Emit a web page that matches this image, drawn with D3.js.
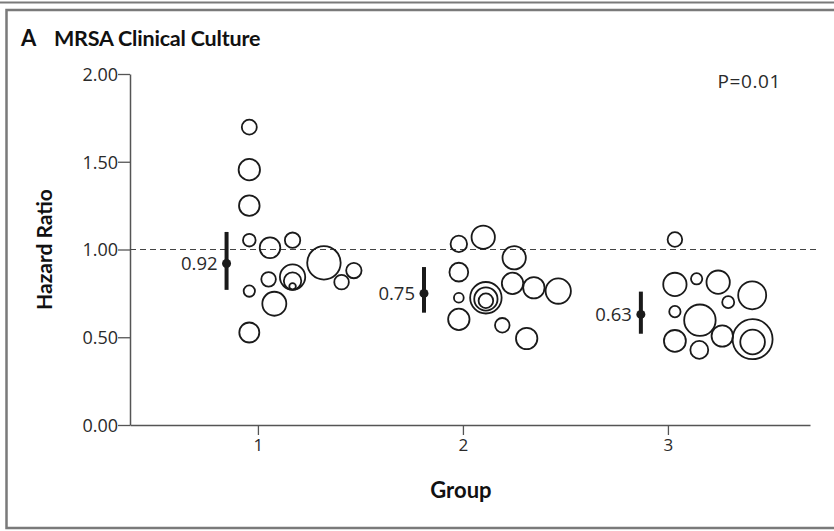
<!DOCTYPE html>
<html>
<head>
<meta charset="utf-8">
<script src="https://cdn.jsdelivr.net/npm/d3@7/dist/d3.min.js"></script>
<style>
  html, body { margin: 0; padding: 0; background: #fff; }
  svg { display: block; }
</style>
</head>
<body>
<script>
// ---- data ----
const groups = [1, 2, 3];
const yTicks = [0, 0.5, 1.0, 1.5, 2.0];
const pooledHR = [0.92, 0.75, 0.63];
const pooledLow = [0.77, 0.64, 0.52];
const pooledHigh = [1.10, 0.90, 0.76];
const pooledX = [0.847, 1.810, 2.868];
// individual studies (x position in group units, hazard ratio, weight)
const studyX = [
  0.958, 0.958, 0.958, 0.958, 1.059, 1.169, 1.322, 1.468, 1.408, 1.052, 1.169, 1.169, 1.169, 0.958, 1.080, 0.958,
  1.980, 2.099, 2.250, 1.980, 1.980, 2.112, 2.112, 2.112, 2.242, 2.346, 2.465, 1.980, 2.192, 2.311,
  3.034, 3.034, 3.140, 3.245, 3.411, 3.294, 3.034, 3.156, 3.034, 3.153, 3.265, 3.413, 3.413
];
const studyHR = [
  1.697, 1.455, 1.250, 1.053, 1.010, 1.053, 0.924, 0.880, 0.814, 0.830, 0.843, 0.820, 0.790, 0.763, 0.691, 0.527,
  1.032, 1.070, 0.953, 0.871, 0.725, 0.725, 0.718, 0.708, 0.807, 0.782, 0.763, 0.602, 0.568, 0.493,
  1.057, 0.801, 0.833, 0.814, 0.739, 0.700, 0.646, 0.597, 0.479, 0.428, 0.507, 0.489, 0.473
];
const studyWeight = [
  14, 28.6, 26.5, 10, 26.5, 14.8, 70, 14.8, 13.3, 13.3, 40, 19, 2.7, 8, 36, 25,
  17, 34, 34, 22, 6, 62, 34, 13.3, 28.6, 28.6, 40, 28.6, 13.3, 28.6,
  13.3, 34, 8, 34, 49, 9, 8, 62, 30, 20, 28.6, 100, 38
];
const pText = "P=0.01";

// ---- layout ----
const W = 834, H = 531;
const svg = d3.select("body").append("svg").attr("width", W).attr("height", H);

const x = d3.scaleLinear().domain([0.376, 3.693]).range([130, 810]);
const y = d3.scaleLinear().domain([0, 2]).range([425, 74]);
const r = d3.scaleSqrt().domain([0, 100]).range([0, 20]);

const textCol = "#2a2a2a";
const numFont = "'Open Sans', sans-serif";
const boldFont = "Lato, 'Open Sans', sans-serif";

// frame
svg.append("line").attr("x1", 0).attr("x2", W).attr("y1", 2.5).attr("y2", 2.5)
  .attr("stroke", "#7a7a7a").attr("stroke-width", 2);
svg.append("path").attr("d", `M${W + 5},10 H6.5 V528 H${W + 5}`)
  .attr("fill", "none").attr("stroke", "#7a7a7a").attr("stroke-width", 2.5);

// title
svg.append("text").attr("x", 21).attr("y", 46).text("A")
  .attr("font-family", boldFont).attr("font-weight", 700).attr("font-size", 22).attr("fill", "#111");
svg.append("text").attr("x", 54).attr("y", 46).text("MRSA Clinical Culture")
  .attr("font-family", boldFont).attr("font-weight", 700).attr("font-size", 21.5).attr("fill", "#111")
  .attr("letter-spacing", -0.2);

// y axis
const yAxis = svg.append("g").attr("transform", `translate(${x.range()[0]},0)`)
  .call(d3.axisLeft(y).tickValues(yTicks).tickFormat(d3.format(".2f")).tickSize(12).tickSizeOuter(0));
yAxis.select(".domain").attr("stroke", "#555").attr("stroke-width", 1.5);
yAxis.selectAll(".tick line").attr("stroke", "#555").attr("stroke-width", 1.3);
yAxis.selectAll(".tick text").attr("font-family", numFont).attr("font-size", 18)
  .attr("fill", textCol).attr("x", -12).attr("dy", "0.35em");

// x axis
const xAxis = svg.append("g").attr("transform", `translate(0,${y(0)})`)
  .call(d3.axisBottom(x).tickValues(groups).tickFormat(d3.format("d")).tickSize(10).tickSizeOuter(0));
xAxis.select(".domain").attr("stroke", "#555").attr("stroke-width", 1.5);
xAxis.selectAll(".tick line").attr("stroke", "#555").attr("stroke-width", 1.3);
xAxis.selectAll(".tick text").attr("font-family", numFont).attr("font-size", 17)
  .attr("fill", textCol).attr("y", 14);

// axis titles
svg.append("text").attr("transform", `translate(52,${y(1)}) rotate(-90)`)
  .attr("text-anchor", "middle").text("Hazard Ratio")
  .attr("font-family", boldFont).attr("font-weight", 700).attr("font-size", 21).attr("fill", "#111");
svg.append("text").attr("x", x(2) - 2).attr("y", 498).attr("text-anchor", "middle").text("Group")
  .attr("font-family", boldFont).attr("font-weight", 700).attr("font-size", 22).attr("fill", "#111");

// reference line
svg.append("line").attr("x1", x.range()[0]).attr("x2", 820).attr("y1", y(1)).attr("y2", y(1))
  .attr("stroke", "#444").attr("stroke-width", 1.2).attr("stroke-dasharray", "6,4");

// P value
svg.append("text").attr("x", 781).attr("y", 88).attr("text-anchor", "end").text(pText)
  .attr("font-family", numFont).attr("font-size", 19).attr("fill", textCol).attr("letter-spacing", 0.6);

// study bubbles
const studies = studyX.map((d, i) => ({ x: d, hr: studyHR[i], w: studyWeight[i] }));
svg.append("g").selectAll("circle").data(studies).join("circle")
  .attr("cx", d => x(d.x)).attr("cy", d => y(d.hr)).attr("r", d => r(d.w))
  .attr("fill", "none").attr("stroke", "#1a1a1a").attr("stroke-width", 1.8);

// pooled estimates
const pooled = groups.map((g, i) => ({ x: pooledX[i], hr: pooledHR[i], lo: pooledLow[i], hi: pooledHigh[i] }));
const pg = svg.append("g");
pg.selectAll("line").data(pooled).join("line")
  .attr("x1", d => x(d.x)).attr("x2", d => x(d.x))
  .attr("y1", d => y(d.lo)).attr("y2", d => y(d.hi))
  .attr("stroke", "#1a1a1a").attr("stroke-width", 4);
pg.selectAll("circle").data(pooled).join("circle")
  .attr("cx", d => x(d.x)).attr("cy", d => y(d.hr)).attr("r", 4.5).attr("fill", "#1a1a1a");
pg.selectAll("text").data(pooled).join("text")
  .attr("x", d => x(d.x) - 9).attr("y", d => y(d.hr)).attr("dy", "0.35em")
  .attr("text-anchor", "end").text(d => d3.format(".2f")(d.hr))
  .attr("font-family", numFont).attr("font-size", 18.5).attr("fill", textCol);
</script>
</body>
</html>
